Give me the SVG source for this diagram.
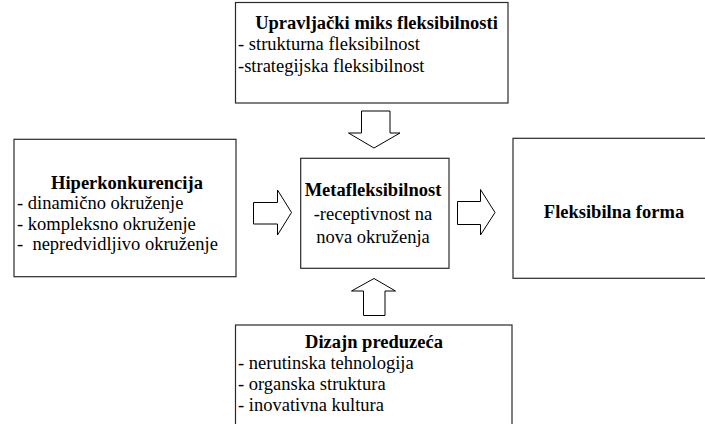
<svg xmlns="http://www.w3.org/2000/svg" width="705" height="424" viewBox="0 0 705 424">
  <style>
    .box { fill: #ffffff; stroke: #2a2a2a; stroke-width: 1.2; }
    .arrow { fill: #ffffff; stroke: #000000; stroke-width: 1; stroke-linejoin: miter; }
  </style>
  <rect x="0" y="0" width="705" height="424" fill="#ffffff"/>

  <!-- block arrows between the boxes -->
  <g id="connectors">
    <polygon class="arrow" points="253.5,202.5 277.5,202.5 277.5,190 291.5,212.5 277.5,235 277.5,224 253.5,224"/>
    <polygon class="arrow" points="457.5,201.5 480.5,201.5 480.5,189.5 495,212.5 480.5,235 480.5,224.5 457.5,224.5"/>
    <polygon class="arrow" points="361.5,111 390,111 390,133 400,133 374,148 348.5,133 361.5,133"/>
    <polygon class="arrow" points="374,278.5 395.5,291 385,291 385,315.5 363.5,315.5 363.5,291 351.5,291"/>
  </g>

  <g id="upravljacki-miks">
    <rect class="box" x="235.5" y="2.5" width="272.5" height="100.5"/>
    <text x="376.5" y="29" font-family="'Liberation Serif', serif" font-size="18.5" font-weight="bold" text-anchor="middle">Upravljački miks fleksibilnosti</text>
    <text x="238" y="50" font-family="'Liberation Serif', serif" font-size="18.5">- strukturna fleksibilnost</text>
    <text x="238" y="71.5" font-family="'Liberation Serif', serif" font-size="18.5">-strategijska fleksibilnost</text>
  </g>

  <g id="hiperkonkurencija">
    <rect class="box" x="14" y="139.3" width="222" height="137.4"/>
    <text x="127" y="188.5" font-family="'Liberation Serif', serif" font-size="18.5" font-weight="bold" text-anchor="middle">Hiperkonkurencija</text>
    <text x="17" y="209" font-family="'Liberation Serif', serif" font-size="18.5">- dinamično okruženje</text>
    <text x="17" y="229.5" font-family="'Liberation Serif', serif" font-size="18.5">- kompleksno okruženje</text>
    <text x="17" y="250" font-family="'Liberation Serif', serif" font-size="18.5" xml:space="preserve">-  nepredvidljivo okruženje</text>
  </g>

  <g id="metafleksibilnost">
    <rect class="box" x="300.7" y="158.3" width="148.3" height="110"/>
    <text x="373" y="196" font-family="'Liberation Serif', serif" font-size="18.5" font-weight="bold" text-anchor="middle">Metafleksibilnost</text>
    <text x="373" y="220" font-family="'Liberation Serif', serif" font-size="18.5" text-anchor="middle">-receptivnost na</text>
    <text x="373" y="243" font-family="'Liberation Serif', serif" font-size="18.5" text-anchor="middle">nova okruženja</text>
  </g>

  <g id="fleksibilna-forma">
    <rect class="box" x="513" y="138.3" width="195" height="140"/>
    <text x="614" y="218" font-family="'Liberation Serif', serif" font-size="18.5" font-weight="bold" text-anchor="middle">Fleksibilna forma</text>
  </g>

  <g id="dizajn-preduzeca">
    <rect class="box" x="235.5" y="325" width="276.5" height="105"/>
    <text x="374" y="348" font-family="'Liberation Serif', serif" font-size="18.5" font-weight="bold" text-anchor="middle">Dizajn preduzeća</text>
    <text x="238" y="369" font-family="'Liberation Serif', serif" font-size="18.5">- nerutinska tehnologija</text>
    <text x="238" y="390" font-family="'Liberation Serif', serif" font-size="18.5">- organska struktura</text>
    <text x="238" y="411" font-family="'Liberation Serif', serif" font-size="18.5">- inovativna kultura</text>
  </g>
</svg>
